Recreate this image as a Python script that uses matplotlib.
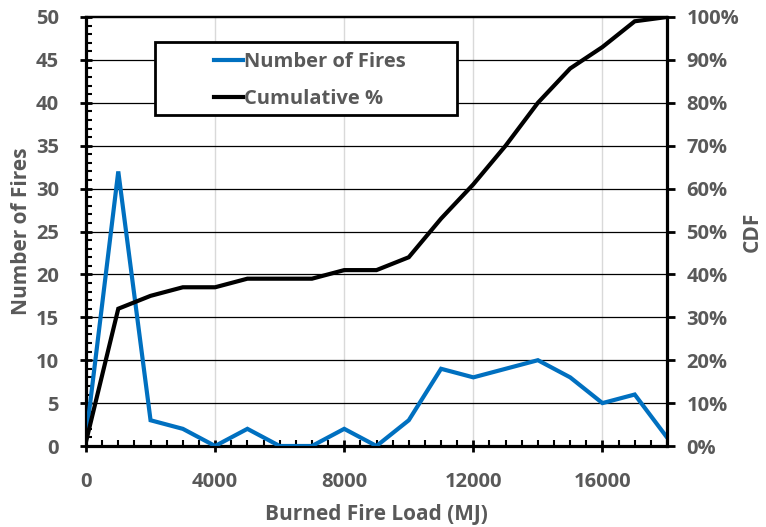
import matplotlib
matplotlib.use("Agg")
import matplotlib.pyplot as plt
from matplotlib.patches import Rectangle
from matplotlib.ticker import MultipleLocator, PercentFormatter

# data
fire_load = [0, 1000, 2000, 3000, 4000, 5000, 6000, 7000, 8000, 9000,
             10000, 11000, 12000, 13000, 14000, 15000, 16000, 17000, 18000]
num_fires = [1, 32, 3, 2, 0, 2, 0, 0, 2, 0, 3, 9, 8, 9, 10, 8, 5, 6, 1]
cdf_pct = [1, 32, 35, 37, 37, 39, 39, 39, 41, 41, 44, 53, 61, 70, 80, 88, 93, 99, 100]
x_ticks = [0, 4000, 8000, 12000, 16000]

TXT = '#595959'
W, H = 766, 527
plt.rcParams['font.family'] = ['Open Sans', 'DejaVu Sans']
plt.rcParams['font.weight'] = 'bold'

fig = plt.figure(figsize=(W / 100, H / 100), dpi=100)
ax = fig.add_axes([86 / W, 1 - 446 / H, 581 / W, 429 / H])
ax2 = ax.twinx()

l1, = ax.plot(fire_load, num_fires, color='#0070C0', lw=3, solid_joinstyle='miter', zorder=3)
l2, = ax2.plot(fire_load, cdf_pct, color='black', lw=3, solid_joinstyle='miter', zorder=3)

ax.set_xlim(0, 18000)
ax.set_ylim(0, 50)
ax2.set_ylim(0, 100)
ax.set_xticks(x_ticks)
ax.xaxis.set_minor_locator(MultipleLocator(500))
ax.yaxis.set_major_locator(MultipleLocator(5))
ax.yaxis.set_minor_locator(MultipleLocator(1))
ax2.yaxis.set_major_locator(MultipleLocator(10))
ax2.yaxis.set_major_formatter(PercentFormatter(decimals=0))

# gridlines
for v in range(5, 50, 5):
    ax.axhline(v, color='black', lw=0.9, zorder=1)
for v in x_ticks[1:]:
    ax.axvline(v, color='#d9d9d9', lw=1, zorder=0.5)

for s in ['left', 'bottom']:
    ax.spines[s].set_linewidth(2.3)
ax.spines['top'].set_linewidth(1.6)
ax2.spines['right'].set_linewidth(2.3)
ax2.spines['top'].set_linewidth(1.6)

ax.tick_params(axis='both', which='major', direction='inout', length=9, width=2,
               labelsize=14.5, labelcolor=TXT)
ax.tick_params(axis='x', which='major', pad=14)
ax.tick_params(axis='y', which='major', pad=15)
ax.tick_params(axis='both', which='minor', direction='in', length=4, width=1.5)
ax2.tick_params(axis='y', which='major', direction='out', length=6, width=2,
                labelsize=14.5, labelcolor=TXT, pad=8)

ax.set_xlabel('Burned Fire Load (MJ)', fontsize=15, color=TXT, fontweight='bold', labelpad=9)
ax.set_ylabel('Number of Fires', fontsize=15, color=TXT, fontweight='bold', labelpad=3)
ax2.set_ylabel('CDF', fontsize=15, color=TXT, fontweight='bold', labelpad=2)

# legend box drawn by hand so it keeps the reference size
fig.patches.append(Rectangle((155 / W, 1 - 115 / H), 302 / W, 73 / H,
                             transform=fig.transFigure, facecolor='white',
                             edgecolor='black', lw=2, zorder=5))
leg = fig.legend([l1, l2], ['Number of Fires', 'Cumulative %'],
                 loc='upper left', bbox_to_anchor=(214 / W, 1 - 52 / H),
                 fontsize=14.5, frameon=False, handlelength=1.45, handletextpad=0.05,
                 borderpad=0, borderaxespad=0, labelspacing=0.85)
leg.set_zorder(6)
for t in leg.get_texts():
    t.set_color(TXT)

fig.savefig('out.png', dpi=100)
